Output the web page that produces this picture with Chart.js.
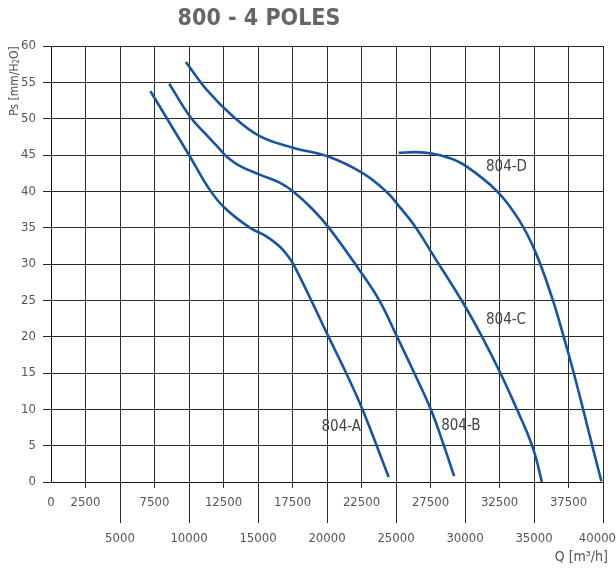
<!DOCTYPE html>
<html>
<head>
<meta charset="utf-8">
<style>
  html, body { margin: 0; padding: 0; background: #ffffff; }
  #wrap { width: 616px; height: 570px; position: relative; }
</style>
<script src="https://cdn.jsdelivr.net/npm/chart.js@4/dist/chart.umd.min.js"></script>
</head>
<body>
<div id="wrap"><canvas id="chart" width="616" height="570"></canvas></div>
<script>
// Fan curves, static pressure Ps [mm H2O] against flow Q [m3/h]
const seriesNames = ['804-A', '804-B', '804-C', '804-D'];

const flowA = [7200, 8600, 10065, 11510, 12594, 14400, 15605, 16570, 17170, 17580, 18858, 20108, 21387, 22587, 24465];
const psA   = [53.8, 49.4, 44.8, 40.2, 37.7, 35.0, 33.8, 32.4, 31.1, 29.9, 25.0, 20.0, 15.0, 9.9, 0.7];

const flowB = [8570, 10065, 11200, 12230, 12715, 13678, 15123, 16570, 17530, 18975, 20130, 22227, 23790, 25072, 26322, 27520, 28490, 29212];
const psB   = [54.8, 50.3, 47.9, 45.8, 44.8, 43.5, 42.3, 41.2, 40.0, 37.5, 35.0, 29.5, 25.0, 20.0, 15.0, 10.0, 4.9, 0.8];

const flowC = [9770, 11272, 13196, 15123, 17530, 20130, 22587, 24278, 25200, 26445, 27600, 29812, 31257, 32587, 33787, 34500, 35100, 35570];
const psC   = [57.8, 54.0, 50.3, 47.6, 46.0, 44.75, 42.5, 40.0, 38.0, 35.0, 31.5, 24.8, 19.9, 14.9, 9.9, 6.8, 3.6, 0.0];

const flowD = [25190, 26440, 27600, 28850, 30050, 32330, 33900, 35116, 36318, 37150, 37880, 38560, 39220, 39884];
const psD   = [45.3, 45.4, 45.2, 44.6, 43.5, 40.0, 36.1, 31.6, 25.3, 20.0, 15.0, 10.0, 5.0, 0.1];

const xTicksMax = 40000, xStep = 2500;
const yTicksMax = 60, yStep = 5;

const FONT = '"Liberation Sans Narrow", "DejaVu Sans Condensed", "Roboto", sans-serif';
const GRID = '#2b2b2b';
const CURVE = '#1754a3';

const toPoints = (xs, ys) => xs.map((x, i) => ({ x: x, y: ys[i] }));
const curves = [toPoints(flowA, psA), toPoints(flowB, psB), toPoints(flowC, psC), toPoints(flowD, psD)];

// where each curve name sits, in axis units (left edge, vertical middle)
const nameAnchors = [
  { x: 19600, y: 7.5 },
  { x: 28270, y: 7.7 },
  { x: 31520, y: 22.3 },
  { x: 31520, y: 43.4 }
];

const decorations = {
  id: 'decorations',
  afterDraw(chart) {
    const ctx = chart.ctx;
    const xs = chart.scales.x, ys = chart.scales.y;
    const area = chart.chartArea;
    ctx.save();

    // long ticks under every 5000
    ctx.strokeStyle = GRID;
    ctx.lineWidth = 1;
    xs.ticks.forEach(t => {
      if (t.value !== 0 && t.value % 5000 === 0) {
        const px = Math.round(xs.getPixelForValue(t.value) - 0.5) + 0.5;
        ctx.beginPath();
        ctx.moveTo(px, area.bottom);
        ctx.lineTo(px, area.bottom + 41);
        ctx.stroke();
      }
    });

    // curve names
    ctx.fillStyle = '#444';
    ctx.font = '15px ' + FONT;
    ctx.textAlign = 'left';
    ctx.textBaseline = 'middle';
    nameAnchors.forEach((a, i) => {
      ctx.fillText(seriesNames[i], xs.getPixelForValue(a.x), ys.getPixelForValue(a.y));
    });

    // title
    ctx.fillStyle = '#666';
    ctx.font = 'bold 23px ' + FONT;
    ctx.textAlign = 'center';
    ctx.textBaseline = 'middle';
    ctx.fillText('800 - 4 POLES', 259, 19);

    // y axis title: Ps [mm/H2O]
    ctx.save();
    ctx.fillStyle = '#555';
    ctx.textAlign = 'left';
    ctx.textBaseline = 'middle';
    const part1 = 'Ps [mm/H', part2 = '2', part3 = 'O]';
    ctx.font = '12px ' + FONT;
    const w1 = ctx.measureText(part1).width, w3 = ctx.measureText(part3).width;
    ctx.font = '8px ' + FONT;
    const w2 = ctx.measureText(part2).width;
    const total = w1 + w2 + w3;
    ctx.translate(15, 81 + total / 2);
    ctx.rotate(-Math.PI / 2);
    ctx.font = '12px ' + FONT;
    ctx.fillText(part1, 0, 0);
    ctx.font = '8px ' + FONT;
    ctx.fillText(part2, w1, 2);
    ctx.font = '12px ' + FONT;
    ctx.fillText(part3, w1 + w2, 0);
    ctx.restore();

    // x axis title: Q [m3/h]
    ctx.fillStyle = '#555';
    ctx.textBaseline = 'middle';
    ctx.textAlign = 'right';
    ctx.font = '14px ' + FONT;
    ctx.fillText('Q [m\u00B3/h]', 608, 557);

    ctx.restore();
  }
};

new Chart(document.getElementById('chart'), {
  type: 'scatter',
  data: {
    datasets: curves.map((pts, i) => ({
      label: seriesNames[i],
      data: pts,
      showLine: true,
      borderColor: CURVE,
      borderWidth: 2.6,
      pointRadius: 0,
      pointHoverRadius: 0,
      fill: false,
      tension: 0.4
    }))
  },
  options: {
    responsive: false,
    animation: false,
    layout: { padding: { top: 46, right: 13, bottom: 0, left: 0 } },
    plugins: {
      legend: { display: false },
      title: { display: false },
      tooltip: { enabled: false }
    },
    scales: {
      x: {
        type: 'linear',
        min: 0,
        max: xTicksMax,
        afterFit: s => { s.height = 88; s.paddingLeft = 0; s.paddingRight = 0; },
        afterBuildTicks: s => {
          const t = [];
          for (let v = 0; v <= xTicksMax; v += xStep) t.push({ value: v });
          s.ticks = t;
        },
        border: { display: true, color: '#111', width: 1 },
        grid: {
          color: GRID,
          lineWidth: 1,
          tickLength: 6,
          tickColor: c => (c.tick && c.tick.value === 0) ? 'rgba(0,0,0,0)' : GRID
        },
        ticks: {
          autoSkip: false,
          maxRotation: 0,
          padding: -3,
          color: '#555',
          font: { family: FONT, size: 13, lineHeight: '36px' },
          callback: v => {
            if (v === xTicksMax) return ['', String(v) + '\u00A0\u00A0\u00A0'];
            return (v !== 0 && v % 5000 === 0) ? ['', String(v)] : String(v);
          }
        }
      },
      y: {
        type: 'linear',
        min: 0,
        max: yTicksMax,
        afterFit: s => { s.width = 51; s.paddingTop = 0; s.paddingBottom = 0; },
        afterBuildTicks: s => {
          const t = [];
          for (let v = 0; v <= yTicksMax; v += yStep) t.push({ value: v });
          s.ticks = t;
        },
        border: { display: true, color: '#111', width: 1 },
        grid: { color: GRID, lineWidth: 1, tickLength: 8 },
        ticks: {
          padding: 7,
          color: '#555',
          font: { family: FONT, size: 13 }
        }
      }
    }
  },
  plugins: [decorations]
});
</script>
</body>
</html>
